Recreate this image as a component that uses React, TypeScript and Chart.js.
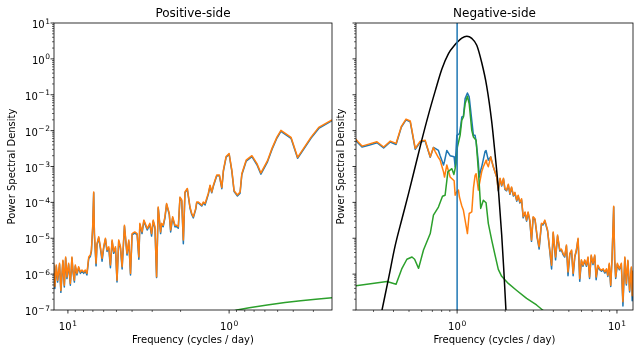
import React, { useEffect, useRef } from "react";
import { Chart, registerables } from "chart.js";

Chart.register(...registerables);

const C_BLUE = "#1f77b4";
const C_ORANGE = "#ff7f0e";
const C_GREEN = "#2ca02c";
const C_BLACK = "#000000";
const FONT = '"DejaVu Sans", sans-serif';

const Y_MIN = 1e-7;
const Y_MAX = 10;
const Y_TICK_EXPONENTS = [-7, -6, -5, -4, -3, -2, -1, 0, 1];
const X_TICK_EXPONENTS = [-1, 0, 1];

const POS_X_MIN = 0.23;
const POS_X_MAX = 12.2;
const NEG_X_MIN = 0.233;
const NEG_X_MAX = 12.6;

const TITLE_POS = "Positive-side";
const TITLE_NEG = "Negative-side";
const X_LABEL = "Frequency (cycles / day)";
const Y_LABEL = "Power Spectral Density";

// ---------- Positive side ----------
const posFreq = [
  0.230, 0.278, 0.310, 0.345, 0.376, 0.413, 0.477, 0.505, 0.542, 0.578,
  0.635, 0.672, 0.722, 0.784, 0.834, 0.855, 0.888, 0.931, 0.962, 1.000,
  1.044, 1.085, 1.110, 1.149, 1.193, 1.252, 1.282, 1.313, 1.345, 1.410,
  1.445, 1.479, 1.515, 1.553, 1.589, 1.611, 1.667, 1.706, 1.749, 1.817,
  1.879, 1.923, 1.968, 2.018, 2.066, 2.115, 2.168, 2.240, 2.305, 2.351,
  2.443, 2.500, 2.564, 2.624, 2.661, 2.754, 2.818, 2.884, 2.958, 3.027,
  3.102, 3.22, 3.38, 3.47, 3.58, 3.63, 3.72, 3.85, 4.00, 4.09,
  4.19, 4.30, 4.46, 4.61, 4.72, 4.84, 4.96, 5.07, 5.20, 5.32,
  5.45, 5.58, 5.72, 5.85, 6.00, 6.14, 6.29, 6.44, 6.60, 6.69,
  6.85, 6.92, 7.02, 7.15, 7.26, 7.43, 7.62, 7.80, 7.98, 8.18,
  8.37, 8.58, 8.79, 9.00, 9.12, 9.31, 9.44, 9.66, 9.90, 10.14,
  10.33, 10.53, 10.74, 11.06, 11.27, 11.59, 11.81, 12.05, 12.27,
];
const posOrange = [
  2.0e-2, 1.23e-2, 6.6e-3, 3.2e-3, 1.8e-3, 6.5e-3, 1.02e-2, 6.6e-3, 3.2e-3, 1.45e-3,
  6.6e-4, 1.2e-3, 2.0e-3, 1.5e-3, 6.3e-4, 1.95e-4, 1.6e-4, 2.1e-4, 7.9e-4, 2.3e-3,
  1.9e-3, 7.9e-4, 2.6e-4, 5.8e-4, 5.8e-4, 3.0e-4, 1.95e-4, 3.0e-4, 1.8e-4, 9.3e-5,
  1.02e-4, 8.3e-5, 9.3e-5, 1.02e-4, 1.02e-4, 6.8e-5, 4.0e-5, 4.9e-5, 7.4e-5, 2.45e-4,
  1.95e-4, 8.9e-6, 1.17e-4, 1.4e-4, 2.1e-5, 2.3e-5, 2.3e-5, 4.0e-5, 1.7e-5, 4.9e-5,
  9.3e-5, 4.0e-5, 2.3e-5, 2.6e-5, 1.5e-5, 7.4e-5, 8.5e-7, 2.1e-5, 3.2e-5, 1.35e-5,
  2.6e-5, 1.86e-5, 3.2e-5, 1.5e-5, 2.6e-5, 3.0e-6, 1.35e-5, 1.5e-5, 1.35e-5, 1.05e-6,
  8.9e-6, 3.8e-6, 2.3e-5, 1.6e-6, 5.8e-6, 8.9e-6, 6.8e-7, 5.8e-6, 4.2e-6, 8.9e-6,
  1.8e-6, 5.8e-6, 4.7e-6, 1.0e-5, 5.8e-6, 2.75e-6, 5.8e-6, 1.1e-5, 7.1e-6, 2.0e-6,
  1.35e-5, 1.95e-4, 2.1e-5, 4.7e-6, 3.4e-6, 3.0e-6, 1.05e-6, 1.3e-6, 1.15e-6, 1.3e-6,
  1.15e-6, 1.6e-6, 1.05e-6, 1.8e-6, 6.8e-7, 1.3e-6, 3.0e-6, 5.5e-7, 2.0e-6, 8.3e-7,
  3.0e-6, 4.9e-7, 2.45e-6, 3.5e-7, 2.0e-6, 6.8e-7, 1.8e-6, 4.5e-7, 2.0e-6,
];
const posBlue = [
  1.9e-2, 1.15e-2, 6.2e-3, 3.0e-3, 1.7e-3, 6.1e-3, 9.6e-3, 6.2e-3, 3.0e-3, 1.35e-3,
  6.1e-4, 1.12e-3, 1.88e-3, 1.4e-3, 5.9e-4, 1.8e-4, 1.5e-4, 2.0e-4, 7.4e-4, 2.2e-3,
  1.8e-3, 7.4e-4, 2.4e-4, 5.5e-4, 5.5e-4, 2.8e-4, 1.85e-4, 2.85e-4, 1.7e-4, 8.5e-5,
  9.7e-5, 7.9e-5, 8.8e-5, 9.7e-5, 9.7e-5, 6.4e-5, 3.7e-5, 4.6e-5, 7.0e-5, 2.35e-4,
  1.85e-4, 7.0e-6, 1.1e-4, 1.33e-4, 1.9e-5, 2.1e-5, 2.1e-5, 3.7e-5, 1.5e-5, 4.6e-5,
  8.8e-5, 3.7e-5, 2.1e-5, 2.4e-5, 1.35e-5, 7.0e-5, 8.0e-7, 1.9e-5, 3.0e-5, 1.15e-5,
  2.4e-5, 1.7e-5, 3.0e-5, 1.35e-5, 2.4e-5, 2.6e-6, 1.25e-5, 1.4e-5, 1.25e-5, 9.5e-7,
  8.0e-6, 3.4e-6, 2.15e-5, 1.4e-6, 5.3e-6, 8.2e-6, 6.0e-7, 5.3e-6, 3.8e-6, 8.3e-6,
  1.5e-6, 5.3e-6, 4.3e-6, 9.4e-6, 5.3e-6, 2.3e-6, 5.3e-6, 1.03e-5, 6.6e-6, 1.7e-6,
  1.25e-5, 1.85e-4, 1.9e-5, 4.3e-6, 3.1e-6, 2.7e-6, 9.5e-7, 1.2e-6, 1.05e-6, 1.2e-6,
  1.05e-6, 1.5e-6, 9.5e-7, 1.65e-6, 6.0e-7, 1.2e-6, 2.8e-6, 4.9e-7, 1.85e-6, 7.5e-7,
  2.8e-6, 4.4e-7, 2.3e-6, 3.1e-7, 1.85e-6, 6.0e-7, 1.65e-6, 4.0e-7, 1.85e-6,
];
const posGreenFreq = [0.23, 0.29, 0.36, 0.45, 0.58, 0.75, 0.895, 0.95];
const posGreen = [2.2e-7, 2.0e-7, 1.82e-7, 1.62e-7, 1.38e-7, 1.15e-7, 1.0e-7, 9.2e-8];

// ---------- Negative side ----------
const negFreq = [
  0.231, 0.240, 0.254, 0.280, 0.315, 0.347, 0.382, 0.415, 0.448, 0.479,
  0.509, 0.547, 0.588, 0.631, 0.679, 0.711,
  0.729, 0.764, 0.783, 0.822, 0.834, 0.862, 0.904, 0.958, 0.972, 0.996,
  1.019, 1.034, 1.054, 1.07, 1.095, 1.122, 1.16, 1.19, 1.235, 1.265,
  1.295, 1.314, 1.34, 1.358, 1.377, 1.405, 1.425, 1.459, 1.495, 1.517,
  1.53, 1.567, 1.622, 1.684, 1.768,
  1.81, 1.855, 1.9, 1.95, 1.99, 2.04, 2.09, 2.14, 2.19, 2.25,
  2.30, 2.36, 2.41, 2.47, 2.53, 2.59, 2.66, 2.72, 2.78, 2.85,
  2.92, 2.99, 3.07, 3.17, 3.26, 3.37, 3.45, 3.54, 3.68, 3.80,
  3.90, 3.99, 4.13, 4.25, 4.39, 4.49, 4.60, 4.71, 4.83, 4.94,
  5.07, 5.20, 5.32, 5.45, 5.57, 5.71, 5.85, 5.99, 6.13, 6.29,
  6.44, 6.59, 6.74, 6.90, 7.08, 7.26, 7.41, 7.60, 7.80, 8.00,
  8.20, 8.40, 8.60, 8.77, 8.95, 9.14, 9.32, 9.54, 9.68, 9.82,
  10.05, 10.35, 10.65, 10.9, 11.2, 11.45, 11.7, 12.0, 12.3, 12.45,
  12.6,
];
const negOrange = [
  6.0e-3, 4.9e-3, 3.7e-3, 4.2e-3, 4.9e-3, 3.5e-3, 5.1e-3, 4.4e-3, 1.32e-2, 2.1e-2,
  1.86e-2, 3.2e-3, 5.1e-3, 5.4e-3, 1.86e-3, 3.4e-3,
  2.6e-3, 1.78e-3, 1.5e-3, 7.1e-4, 5.1e-4, 1.1e-3, 5.1e-4, 4.0e-4, 1.58e-4, 2.0e-4,
  2.2e-4, 1.41e-4, 1.02e-4, 7.9e-5, 6.0e-5, 3.2e-5, 1.35e-5, 4.9e-5, 5.4e-5, 2.5e-4,
  5.6e-4, 6.3e-4, 3.5e-4, 2.2e-4, 3.2e-4, 5.1e-4, 7.1e-4, 9.8e-4, 1.26e-3, 1.5e-3,
  1.26e-3, 9.8e-4, 1.86e-3, 9.8e-4, 5.1e-4,
  2.2e-4, 4.7e-4, 3.0e-4, 4.7e-4, 2.45e-4, 2.2e-4, 3.2e-4, 1.78e-4, 2.7e-4, 1.58e-4,
  1.9e-4, 1.15e-4, 1.58e-4, 1.02e-4, 1.26e-4, 4.0e-5, 5.4e-5, 3.2e-5, 5.4e-5, 3.2e-5,
  8.9e-6, 4.0e-5, 3.5e-5, 1.1e-5, 5.8e-6, 2.6e-5, 2.5e-5, 3.2e-5, 1.7e-5, 4.7e-6,
  1.78e-6, 1.5e-5, 3.0e-6, 1.23e-5, 4.7e-6, 5.0e-6, 3.8e-6, 3.2e-6, 6.5e-6, 1.15e-6,
  3.8e-6, 4.7e-6, 1.05e-6, 3.2e-6, 4.7e-6, 1.0e-5, 7.6e-7, 2.5e-6, 1.78e-6, 2.5e-6,
  1.78e-6, 3.0e-6, 8.3e-7, 3.4e-6, 2.0e-6, 3.4e-6, 8.3e-7, 1.78e-6, 1.41e-6, 1.29e-6,
  1.41e-6, 1.15e-6, 1.41e-6, 9.3e-7, 2.0e-6, 4.9e-7, 3.0e-6, 7.8e-5, 2.5e-6, 8.3e-7,
  2.0e-6, 1.41e-6, 2.0e-6, 1.7e-7, 3.0e-6, 5.5e-7, 2.45e-6, 3.5e-7, 1.58e-6, 2.5e-7,
  1.26e-6,
];
const negBlue = [
  5.6e-3, 4.5e-3, 3.5e-3, 3.9e-3, 4.6e-3, 3.3e-3, 4.8e-3, 4.1e-3, 1.25e-2, 2.0e-2,
  1.75e-2, 3.0e-3, 4.8e-3, 5.1e-3, 1.8e-3, 3.4e-3,
  3.2e-3, 2.8e-3, 2.0e-3, 1.1e-3, 1.4e-3, 2.8e-3, 2.0e-3, 1.86e-3, 9.8e-4, 7.4e-3,
  7.9e-3, 8.3e-3, 1.41e-2, 2.4e-2, 2.5e-2, 7.8e-2, 0.112, 8.7e-2, 1.95e-2, 7.4e-3,
  7.4e-3, 5.0e-3, 2.3e-3, 1.26e-3, 5.1e-4, 7.9e-4, 9.8e-4, 1.58e-3, 2.6e-3, 2.8e-3,
  2.8e-3, 1.5e-3, 1.86e-3, 9.8e-4, 5.1e-4,
  2.1e-4, 4.5e-4, 2.85e-4, 4.5e-4, 2.3e-4, 2.1e-4, 3.0e-4, 1.68e-4, 2.55e-4, 1.5e-4,
  1.8e-4, 1.08e-4, 1.5e-4, 9.6e-5, 1.18e-4, 3.7e-5, 5.1e-5, 3.0e-5, 5.1e-5, 3.0e-5,
  8.2e-6, 3.8e-5, 3.3e-5, 1.02e-5, 5.0e-6, 2.45e-5, 2.35e-5, 3.0e-5, 1.6e-5, 4.3e-6,
  1.4e-6, 1.4e-5, 2.5e-6, 1.15e-5, 4.4e-6, 4.7e-6, 3.5e-6, 3.0e-6, 6.1e-6, 9.0e-7,
  3.5e-6, 4.4e-6, 9.0e-7, 3.0e-6, 4.4e-6, 9.4e-6, 6.3e-7, 2.35e-6, 1.65e-6, 2.35e-6,
  1.65e-6, 2.8e-6, 7.6e-7, 3.2e-6, 1.85e-6, 3.2e-6, 7.0e-7, 1.65e-6, 1.32e-6, 1.2e-6,
  1.32e-6, 1.07e-6, 1.32e-6, 8.6e-7, 1.85e-6, 4.5e-7, 2.8e-6, 7.4e-5, 2.35e-6, 7.6e-7,
  1.85e-6, 1.32e-6, 1.85e-6, 1.3e-7, 2.8e-6, 5.0e-7, 2.3e-6, 3.2e-7, 1.48e-6, 1.8e-7,
  1.18e-6,
];
const negGreenFreq = [
  0.231, 0.364, 0.415, 0.452, 0.485, 0.522, 0.542, 0.574, 0.616, 0.679,
  0.711, 0.764, 0.81, 0.841, 0.875, 0.927, 0.955, 0.986, 1.004, 1.044,
  1.07, 1.095, 1.122, 1.16, 1.19, 1.235, 1.265, 1.314, 1.358, 1.405,
  1.459, 1.517, 1.567, 1.646, 1.727, 1.81, 1.9, 2.09, 2.36, 2.72,
  3.14, 3.38, 3.6,
];
const negGreen = [
  4.7e-7, 6.2e-7, 5.2e-7, 1.45e-6, 2.6e-6, 3.0e-6, 2.6e-6, 1.45e-6, 4.7e-6, 1.35e-5,
  4.4e-5, 7.4e-5, 1.48e-4, 1.58e-4, 7.1e-4, 8.7e-4, 6.0e-4, 1.2e-3, 3.5e-3, 7.4e-3,
  1.95e-2, 2.4e-2, 5.6e-2, 9.1e-2, 5.6e-2, 1.02e-2, 6.6e-3, 5.4e-3, 7.9e-4, 6.8e-5,
  1.15e-4, 9.8e-5, 2.6e-5, 8.9e-6, 3.4e-6, 1.35e-6, 8.7e-7, 5.5e-7, 3.5e-7, 2.1e-7,
  1.38e-7, 1.05e-7, 8.3e-8,
];
const filterFreq = [
  0.325, 0.339, 0.373, 0.41, 0.452, 0.497, 0.547, 0.602, 0.662, 0.729,
  0.803, 0.883, 0.972, 1.0, 1.07, 1.15, 1.235, 1.327, 1.425, 1.53,
  1.646, 1.727, 1.81, 1.9, 1.96, 2.02, 2.05,
];
const filterPsd = [
  4.0e-8, 1.0e-7, 7.9e-7, 6.3e-6, 3.5e-5, 1.78e-4, 1.0e-3, 5.6e-3, 2.8e-2, 0.126,
  0.525, 1.41, 2.51, 2.88, 3.8, 4.27, 3.72, 2.4, 0.79, 0.178,
  1.78e-2, 2.24e-3, 2.5e-4, 1.26e-5, 1.26e-6, 1.0e-7, 2.5e-8,
];
const CENTER_FREQ = 1.0;

function toPoints(xs: number[], ys: number[]) {
  return xs.map((x, i) => ({ x, y: ys[i] }));
}

function drawPow(ctx: CanvasRenderingContext2D, e: number, x: number, baseY: number, align: "right" | "center") {
  const base = "10";
  const minus = e < 0 ? "\u2212" : "";
  const digit = String(Math.abs(e));
  ctx.font = `10px ${FONT}`;
  const bw = ctx.measureText(base).width;
  ctx.font = `7.5px ${FONT}`;
  const mw = minus ? ctx.measureText(minus).width + 0.6 : 0;
  const dw = ctx.measureText(digit).width;
  const total = bw + 0.6 + mw + dw;
  const x0 = align === "right" ? x - total : x - total / 2;
  ctx.textAlign = "left";
  ctx.textBaseline = "alphabetic";
  ctx.font = `10px ${FONT}`;
  ctx.fillText(base, x0, baseY);
  ctx.font = `7.5px ${FONT}`;
  let sx = x0 + bw + 0.6;
  if (minus) {
    ctx.fillText(minus, sx, baseY - 4.5);
    sx += mw;
  }
  ctx.fillText(digit, sx, baseY - 4.5);
}

const mplAxes = {
  id: "mplAxes",
  afterDatasetsDraw(chart: any, _args: any, opts: any) {
    const { ctx, chartArea: a } = chart;
    const xs = chart.scales.x;
    const ys = chart.scales.y;
    ctx.save();
    ctx.fillStyle = "#000";
    ctx.strokeStyle = "#000";
    for (const e of Y_TICK_EXPONENTS) {
      for (let k = 1; k <= 9; k++) {
        const v = k * Math.pow(10, e);
        if (v < Y_MIN * 0.9999 || v > Y_MAX * 1.0001) continue;
        const py = ys.getPixelForValue(v);
        const major = k === 1;
        ctx.lineWidth = major ? 0.8 : 0.6;
        ctx.beginPath();
        ctx.moveTo(a.left - (major ? 3.5 : 2), py);
        ctx.lineTo(a.left, py);
        ctx.stroke();
        if (major && opts.yTickLabels) drawPow(ctx, e, a.left - 4, py + 5, "right");
      }
    }
    const lo = Math.min(xs.min, xs.max);
    const hi = Math.max(xs.min, xs.max);
    for (const e of X_TICK_EXPONENTS) {
      for (let k = 1; k <= 9; k++) {
        const v = k * Math.pow(10, e);
        if (v < lo || v > hi) continue;
        const px = xs.getPixelForValue(v);
        const major = k === 1;
        ctx.lineWidth = major ? 0.8 : 0.6;
        ctx.beginPath();
        ctx.moveTo(px, a.bottom);
        ctx.lineTo(px, a.bottom + (major ? 3.5 : 2));
        ctx.stroke();
        if (major) drawPow(ctx, e, px, a.bottom + 20, "center");
      }
    }
    ctx.lineWidth = 0.8;
    ctx.strokeRect(a.left, a.top, a.right - a.left, a.bottom - a.top);
    ctx.textAlign = "center";
    ctx.textBaseline = "alphabetic";
    ctx.font = `12px ${FONT}`;
    ctx.fillText(opts.title, (a.left + a.right) / 2, a.top - 6);
    ctx.font = `10px ${FONT}`;
    ctx.fillText(opts.xLabel, (a.left + a.right) / 2, a.bottom + 32.5);
    ctx.translate(opts.yLabelX, (a.top + a.bottom) / 2);
    ctx.rotate(-Math.PI / 2);
    ctx.fillText(opts.yLabel, 0, 0);
    ctx.restore();
  },
};

function lineDs(label: string, data: any[], color: string, order: number, smooth = false) {
  return {
    label,
    data,
    borderColor: color,
    backgroundColor: color,
    borderWidth: 1.5,
    pointRadius: 0,
    pointHoverRadius: 0,
    fill: false,
    tension: smooth ? 0.4 : 0,
    cubicInterpolationMode: smooth ? ("monotone" as const) : ("default" as const),
    borderJoinStyle: "round" as const,
    clip: 0,
    order,
  };
}

function makeOptions(xMin: number, xMax: number, reverse: boolean, padding: any, axesOpts: any) {
  return {
    responsive: false,
    animation: false as const,
    devicePixelRatio: 1,
    layout: { padding },
    events: [],
    scales: {
      x: { type: "logarithmic" as const, min: xMin, max: xMax, reverse, display: false },
      y: { type: "logarithmic" as const, min: Y_MIN, max: Y_MAX, display: false },
    },
    plugins: {
      legend: { display: false },
      tooltip: { enabled: false },
      mplAxes: axesOpts,
    },
  };
}

export default function App() {
  const leftRef = useRef<HTMLCanvasElement>(null);
  const rightRef = useRef<HTMLCanvasElement>(null);

  useEffect(() => {
    const left = new Chart(leftRef.current!, {
      type: "line",
      data: {
        datasets: [
          lineDs("PSD", toPoints(posFreq, posBlue), C_BLUE, 3),
          lineDs("PSD (corrected)", toPoints(posFreq, posOrange), C_ORANGE, 2),
          lineDs("Filtered", toPoints(posGreenFreq, posGreen), C_GREEN, 1),
        ],
      },
      options: makeOptions(POS_X_MIN, POS_X_MAX, true, { left: 54, right: 4, top: 23, bottom: 43 }, {
        title: TITLE_POS,
        xLabel: X_LABEL,
        yLabel: Y_LABEL,
        yLabelX: 15.3,
        yTickLabels: true,
      }) as any,
      plugins: [mplAxes as any],
    });
    const right = new Chart(rightRef.current!, {
      type: "line",
      data: {
        datasets: [
          lineDs("PSD", toPoints(negFreq, negBlue), C_BLUE, 5),
          lineDs("PSD (corrected)", toPoints(negFreq, negOrange), C_ORANGE, 4),
          lineDs("Filtered", toPoints(negGreenFreq, negGreen), C_GREEN, 3),
          lineDs("Filter", toPoints(filterFreq, filterPsd), C_BLACK, 2, true),
          lineDs("Center", [{ x: CENTER_FREQ, y: Y_MIN }, { x: CENTER_FREQ, y: Y_MAX }], C_BLUE, 1),
        ],
      },
      options: makeOptions(NEG_X_MIN, NEG_X_MAX, false, { left: 20, right: 7, top: 23, bottom: 43 }, {
        title: TITLE_NEG,
        xLabel: X_LABEL,
        yLabel: Y_LABEL,
        yLabelX: 8,
        yTickLabels: false,
      }) as any,
      plugins: [mplAxes as any],
    });
    return () => {
      left.destroy();
      right.destroy();
    };
  }, []);

  return (
    <div style={{ position: "fixed", left: 0, top: 0, width: 640, height: 353, background: "#fff", overflow: "hidden" }}>
      <canvas ref={leftRef} width={336} height={353} style={{ position: "absolute", left: 0, top: 0, width: 336, height: 353 }} />
      <canvas ref={rightRef} width={304} height={353} style={{ position: "absolute", left: 336, top: 0, width: 304, height: 353 }} />
    </div>
  );
}
